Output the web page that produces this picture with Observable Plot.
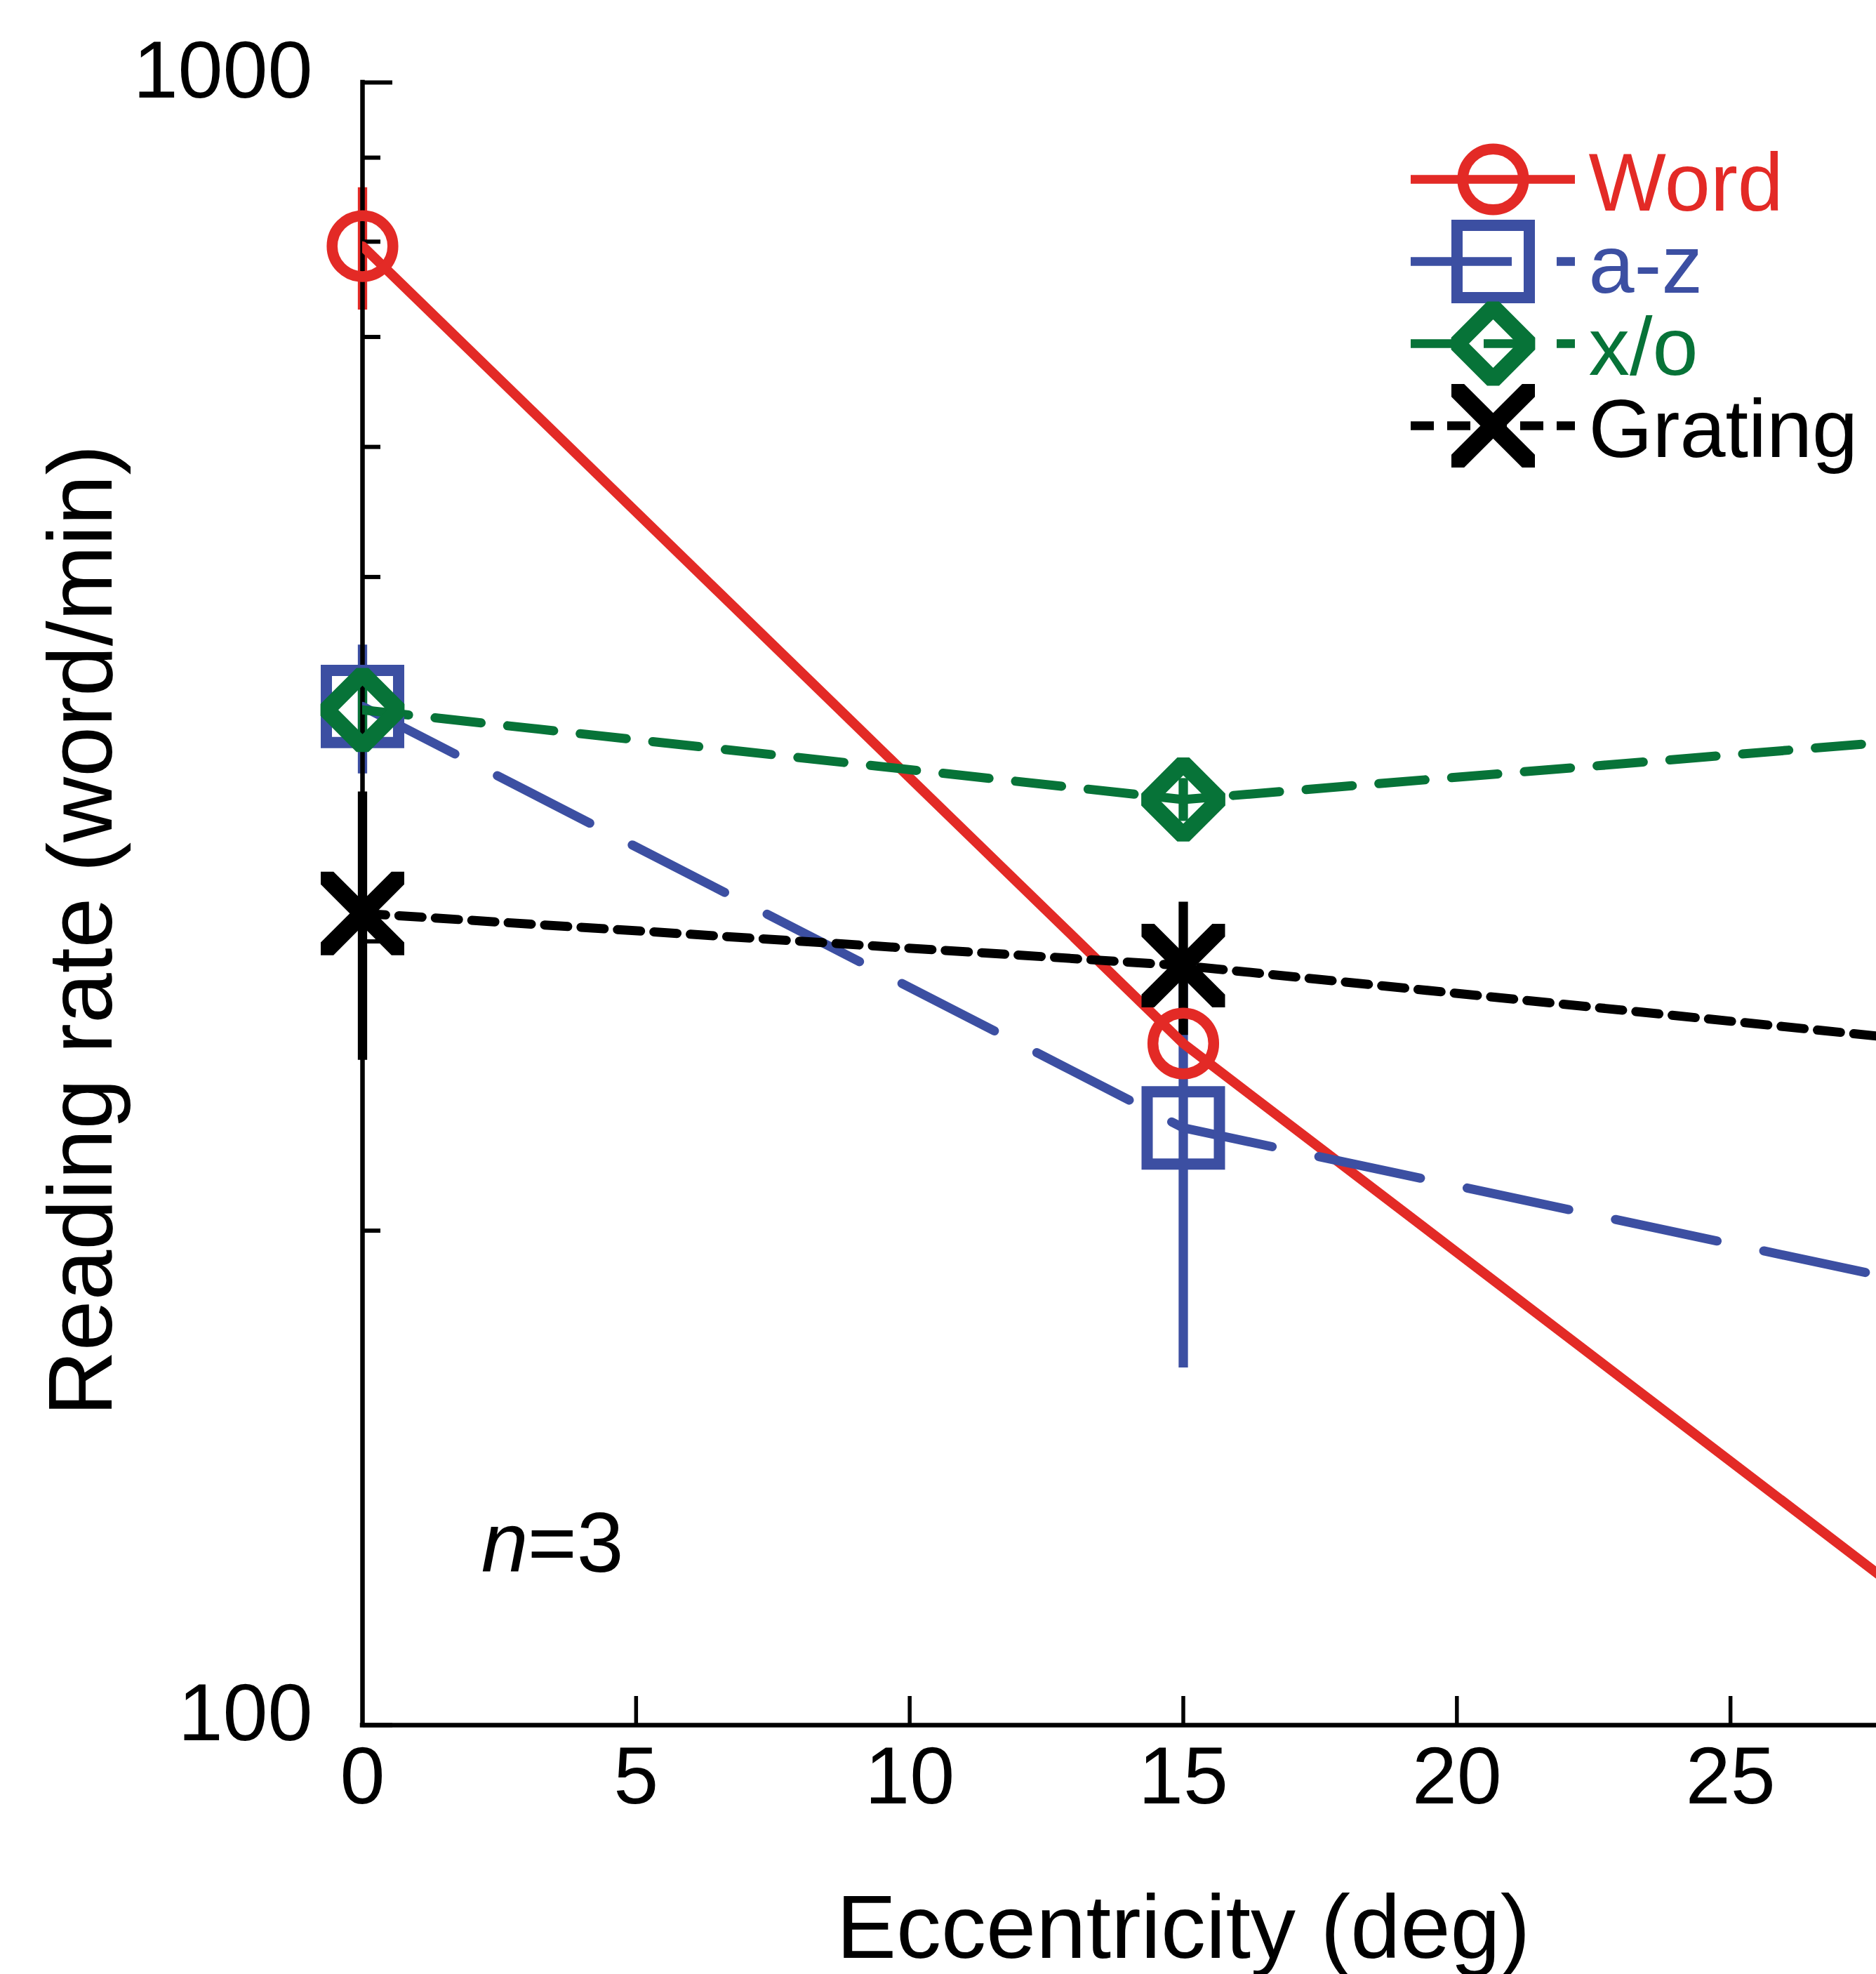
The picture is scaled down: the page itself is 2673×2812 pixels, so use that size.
<!DOCTYPE html>
<html>
<head>
<meta charset="utf-8">
<script src="https://cdn.jsdelivr.net/npm/d3@7"></script>
<script src="https://cdn.jsdelivr.net/npm/@observablehq/plot@0.6"></script>
<style>
html, body { margin: 0; padding: 0; background: white; overflow: hidden; }
#wrap { position: relative; width: 2673px; height: 2812px; overflow: hidden; background: white; }
#legend { position: absolute; left: 1990px; top: 180px; }
</style>
</head>
<body>
<div id="wrap"><div id="chart"></div><div id="legend"></div></div>
<script>
// ---------------- data ----------------
const eccentricity = [0, 15, 30];
const seriesNames = ["Word", "a-z", "x/o", "Grating"];
const wordRate = [795, 260, 108];
const wordSE = [68, null, null];
const azRate = [417, 231, 181];
const azSE = [37.5, 66, null];
const xoRate = [415, 366, 402];
const xoSE = [15, 11, null];
const gratingRate = [312, 290, 258];
const gratingSE = [58, 27, null];

const xDomain = [0, 30];
const yDomain = [100, 1000];
const xTicks = [0, 5, 10, 15, 20, 25];
const xInnerTicks = [5, 10, 15, 20, 25];
const yMajorTicks = [100, 1000];
const yMinorTicks = [200, 300, 400, 500, 600, 700, 800, 900];
const xLabel = "Eccentricity (deg)";
const yLabel = "Reading rate (word/min)";
const noteX = [2.17];
const noteY = [124];
const legendSpan = [0, 1];

// ---------------- styles ----------------
const FONT = "'Liberation Sans', Arial, Helvetica, sans-serif";

// bold X marker drawn as a filled polygon (flat, axis-aligned ends)
const boldX = {
  draw(context, size) {
    const H = Math.sqrt(size / Math.PI);
    const c = H * 0.305;
    context.moveTo(-H, -H);
    context.lineTo(-H + c, -H);
    context.lineTo(0, -c);
    context.lineTo(H - c, -H);
    context.lineTo(H, -H);
    context.lineTo(H, -H + c);
    context.lineTo(c, 0);
    context.lineTo(H, H - c);
    context.lineTo(H, H);
    context.lineTo(H - c, H);
    context.lineTo(0, c);
    context.lineTo(-H + c, H);
    context.lineTo(-H, H);
    context.lineTo(-H, H - c);
    context.lineTo(-c, 0);
    context.lineTo(-H, -H + c);
    context.closePath();
  }
};

const styles = {
  "Word":    {color: "#E32A26", dash: null,     legendDash: null,     lw: 14, symbol: "circle",   r: 43.3, sw: 15.5, join: "miter", filled: false},
  "a-z":     {color: "#3C4FA2", dash: "148,68", legendDash: "144,64", lw: 13, symbol: "square",   r: 58.1, sw: 16,   join: "miter", filled: false},
  "x/o":     {color: "#077338", dash: "66,38",  legendDash: "66,38",  lw: 13, symbol: "diamond2", r: 46.3, sw: 24,   join: "bevel", filled: false},
  "Grating": {color: "#000000", dash: "33,19",  legendDash: "33,19",  lw: 13, symbol: boldX,      r: 59.5, sw: 0,    join: "miter", filled: true}
};

const rates = [wordRate, azRate, xoRate, gratingRate];
const ses = [wordSE, azSE, xoSE, gratingSE];
const seriesData = seriesNames.map((name, k) =>
  eccentricity.map((x, i) => ({series: name, x, y: rates[k][i], se: ses[k][i]}))
);

function dotOptions(s) {
  const st = styles[s];
  return st.filled
    ? {symbol: st.symbol, r: st.r, fill: st.color, stroke: "none"}
    : {symbol: st.symbol, r: st.r, fill: "none", stroke: st.color, strokeWidth: st.sw, strokeLinejoin: st.join};
}

// ---------------- main chart ----------------
const marks = [];

// error bars (drawn first)
seriesNames.forEach((name, k) => {
  const st = styles[name];
  marks.push(Plot.ruleX(seriesData[k].filter(d => d.se != null), {
    x: "x", y1: d => d.y - d.se, y2: d => d.y + d.se,
    stroke: st.color, strokeWidth: 13.3
  }));
});

// axis lines
marks.push(Plot.ruleX([xDomain[0]], {x: d => d, stroke: "black", strokeWidth: 6.5, strokeLinecap: "square"}));
marks.push(Plot.ruleY([yDomain[0]], {y: d => d, stroke: "black", strokeWidth: 6.5, strokeLinecap: "square"}));

// inward ticks
marks.push(Plot.axisY({anchor: "right", frameAnchor: "left", ticks: yMinorTicks, tickSize: 25, fill: "none", stroke: "black", strokeWidth: 6}));
marks.push(Plot.axisY({anchor: "right", frameAnchor: "left", ticks: yMajorTicks, tickSize: 42, fill: "none", stroke: "black", strokeWidth: 6}));
marks.push(Plot.axisX({anchor: "top", frameAnchor: "bottom", ticks: xInnerTicks, tickSize: 42, fill: "none", stroke: "black", strokeWidth: 5.5}));

// tick labels
marks.push(Plot.axisY({anchor: "left", ticks: yMajorTicks, tickSize: 0, tickPadding: 71, fontSize: 115, dy: -15, label: null, tickFormat: d => String(d), fill: "black"}));
marks.push(Plot.axisX({anchor: "bottom", ticks: xTicks, tickSize: 0, tickPadding: 30, fontSize: 115, label: null, tickFormat: d => String(d), fill: "black"}));

// lines (clipped to the frame, which the figure crops on the right)
seriesNames.forEach((name, k) => {
  const st = styles[name];
  const lineOpts = {x: "x", y: "y", stroke: st.color, strokeWidth: st.lw, clip: true};
  if (st.dash) lineOpts.strokeDasharray = st.dash;
  marks.push(Plot.line(seriesData[k], lineOpts));
});
// markers
seriesNames.forEach((name, k) => {
  marks.push(Plot.dot(seriesData[k], {x: "x", y: "y", ...dotOptions(name)}));
});

// axis titles
marks.push(Plot.text([yLabel], {
  frameAnchor: "left", text: d => d, rotate: -90, fontSize: 129,
  textAnchor: "middle", lineAnchor: "bottom", dx: -358, dy: 38, fill: "black"
}));
marks.push(Plot.text([xLabel], {
  x: () => (xDomain[0] + xDomain[1]) / 2, frameAnchor: "bottom", text: d => d, fontSize: 128,
  textAnchor: "middle", lineAnchor: "bottom", dy: 331, fill: "black"
}));

// n=3 note
const notes = noteX.map((x, i) => ({x, y: noteY[i]}));
marks.push(Plot.text(notes, {x: "x", y: "y", text: () => "n", fontStyle: "italic", fontSize: 120, textAnchor: "start", lineAnchor: "bottom", fill: "black"}));
marks.push(Plot.text(notes, {x: "x", y: "y", text: () => "=3", fontSize: 120, textAnchor: "start", lineAnchor: "bottom", dx: 66, fill: "black"}));

const chart = Plot.plot({
  width: 2673,
  height: 2812,
  marginLeft: 516,
  marginRight: 0,
  marginTop: 117,
  marginBottom: 355,
  x: {domain: xDomain, range: [516, 2855], axis: null},
  y: {type: "log", domain: yDomain, range: [2457, 117], axis: null},
  style: `font-family: ${FONT}; background: white; overflow: hidden; max-width: none;`,
  marks
});
document.getElementById("chart").appendChild(chart);

// ---------------- legend ----------------
const legendMarks = [];
seriesNames.forEach(name => {
  const st = styles[name];
  const ruleOpts = {y: d => d, x1: () => legendSpan[0], x2: () => legendSpan[1], stroke: st.color, strokeWidth: 12.3};
  if (st.legendDash) ruleOpts.strokeDasharray = st.legendDash;
  legendMarks.push(Plot.ruleY([name], ruleOpts));
});
seriesNames.forEach(name => {
  legendMarks.push(Plot.dot([name], {x: () => (legendSpan[0] + legendSpan[1]) / 2, y: d => d, ...dotOptions(name)}));
});
seriesNames.forEach(name => {
  const st = styles[name];
  legendMarks.push(Plot.text([name], {
    x: () => legendSpan[1], y: d => d, text: d => d, fill: st.color, fontSize: 117,
    textAnchor: "start", lineAnchor: "bottom", dx: 19, dy: 44
  }));
});

const legend = Plot.plot({
  width: 683,
  height: 500,
  margin: 0,
  x: {domain: legendSpan, range: [20, 254], axis: null},
  y: {type: "point", domain: seriesNames, range: [75, 426], padding: 0, axis: null},
  style: `font-family: ${FONT}; background: transparent; overflow: visible; max-width: none;`,
  marks: legendMarks
});
document.getElementById("legend").appendChild(legend);
</script>
</body>
</html>
